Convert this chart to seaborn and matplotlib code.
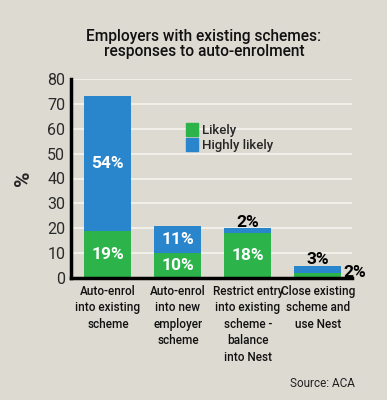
"""
Employers with existing schemes: responses to auto-enrolment
"""

import matplotlib
matplotlib.use("Agg")
import matplotlib.pyplot as plt
import matplotlib.patches as mpatches
import seaborn as sns
import pandas as pd

categories = [
    "Auto-enrol\ninto existing\nscheme",
    "Auto-enrol\ninto new\nemployer\nscheme",
    "Restrict entry\ninto existing\nscheme -\nbalance\ninto Nest",
    "Close existing\nscheme and\nuse Nest",
]
likely = [19, 10, 18, 2]
highly_likely = [54, 11, 2, 3]
yticks = [0, 10, 20, 30, 40, 50, 60, 70, 80]

BG = "#dddad2"
GREEN = "#2cb34a"
BLUE = "#2a86cc"
FONT = ["Roboto", "DejaVu Sans"]

sns.set_theme(style="white")
plt.rcParams["font.family"] = FONT

df = pd.DataFrame({
    "category": categories,
    "likely": likely,
    "highly": highly_likely,
})
df["total"] = df["likely"] + df["highly"]

fig = plt.figure(figsize=(3.87, 4.0), dpi=100, facecolor=BG)
ax = fig.add_axes([0.183, 0.305, 0.727, 0.4975])
ax.set_facecolor(BG)

# stacked: blue totals behind, green base on top
sns.barplot(data=df, x="category", y="total", color=BLUE, width=0.67,
            saturation=1, linewidth=0, ax=ax, zorder=2)
sns.barplot(data=df, x="category", y="likely", color=GREEN, width=0.67,
            saturation=1, linewidth=0, ax=ax, zorder=3)

ax.set_ylim(0, 80)
ax.set_xlim(-0.53, 3.49)
ax.set_yticks(yticks)
ax.set_yticklabels([str(t) for t in yticks], fontsize=11.5, color="#2a2a2a")
ax.tick_params(axis="y", length=0, pad=4)
ax.tick_params(axis="x", length=0, pad=5)
ax.set_xticks(range(len(categories)))
ax.set_xticklabels(categories, fontsize=8.5, fontweight="medium",
                   color="#111111", linespacing=1.35)
ax.set_xlabel("")
ax.set_ylabel("%", fontsize=15, fontweight="bold", rotation=90, labelpad=10)

for y in yticks[1:]:
    ax.axhline(y, color="#f1efe9", lw=1.5, zorder=1)

for side in ["top", "right"]:
    ax.spines[side].set_visible(False)
for side in ["left", "bottom"]:
    ax.spines[side].set_color("black")
    ax.spines[side].set_linewidth(2.5)
    ax.spines[side].set_zorder(5)

# value labels
lab = dict(fontsize=12.5, fontweight="bold", ha="center", va="center")
for i, (lk, hl) in enumerate(zip(likely, highly_likely)):
    if lk >= 8:
        ax.text(i, lk / 2, f"{lk}%", color="white", zorder=6, **lab)
    else:
        ax.text(i + 0.37, -0.8, f"{lk}%", color="black", zorder=6,
                fontsize=12.5, fontweight="bold", ha="left", va="bottom")
    if hl >= 8:
        ax.text(i, lk + hl / 2, f"{hl}%", color="white", zorder=6, **lab)
    else:
        ax.text(i, lk + hl - 0.6, f"{hl}%", color="black", zorder=6,
                fontsize=12.5, fontweight="bold", ha="center", va="bottom")

handles = [mpatches.Patch(color=GREEN, label="Likely"),
           mpatches.Patch(color=BLUE, label="Highly likely")]
leg = ax.legend(handles=handles, loc="upper left", bbox_to_anchor=(0.39, 0.805),
                frameon=False, fontsize=9.5, handlelength=0.9, handleheight=1.1,
                handletextpad=0.3, labelspacing=0.1, borderaxespad=0)
for t in leg.get_texts():
    t.set_fontweight("medium")

fig.text(0.527, 0.89, "Employers with existing schemes:\nresponses to auto-enrolment",
         ha="center", va="center", fontsize=11.2, fontweight="medium",
         color="#111111", linespacing=1.0)
fig.text(0.918, 0.042, "Source: ACA", ha="right", va="center", fontsize=8.5,
         color="#222222")

fig.savefig("out.png", dpi=100, facecolor=BG)
